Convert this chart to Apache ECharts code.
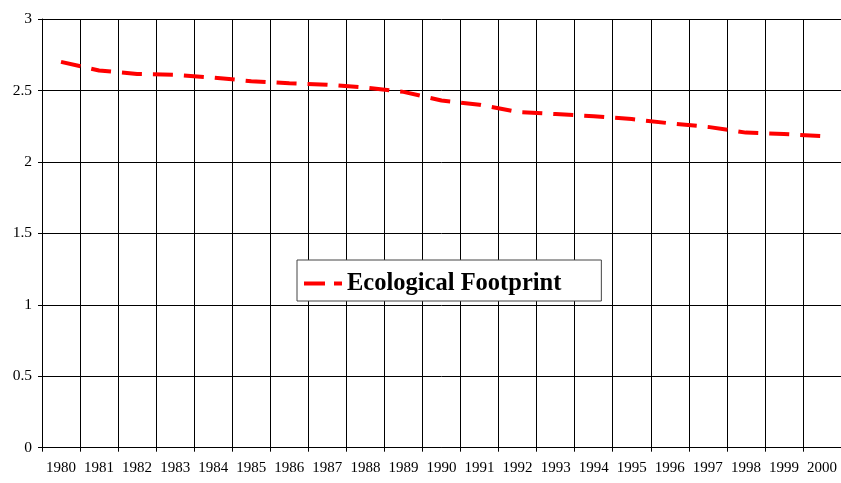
<!DOCTYPE html>
<html>
<head>
<meta charset="utf-8">
<script src="https://cdn.jsdelivr.net/npm/echarts@6/dist/echarts.min.js"></script>
<style>html,body{margin:0;padding:0;background:#fff}#c{width:841px;height:483px}</style>
</head>
<body>
<div id="c"></div>
<script>
const years = ['1980','1981','1982','1983','1984','1985','1986','1987','1988','1989','1990','1991','1992','1993','1994','1995','1996','1997','1998','1999','2000'];
const footprint = [2.70,2.64,2.615,2.61,2.59,2.565,2.55,2.54,2.52,2.49,2.43,2.40,2.35,2.335,2.32,2.30,2.27,2.245,2.205,2.195,2.18];
const seriesName = 'Ecological Footprint';

const chart = echarts.init(document.getElementById('c'), null, {renderer: 'canvas'});
const font = '"Liberation Serif", "Times New Roman", serif';
chart.setOption({
  animation: false,
  backgroundColor: '#fff',
  grid: {left: 42, top: 19, right: -1, bottom: 35.3, containLabel: false},
  legend: {
    show: true,
    left: 297, top: 260,
    orient: 'horizontal',
    padding: [11, 40, 5, 7],
    borderColor: '#444', borderWidth: 1,
    backgroundColor: '#fff',
    itemWidth: 38, itemHeight: 4, itemGap: 6,
    textStyle: {fontFamily: font, fontWeight: 'bold', fontSize: 24.5, color: '#000'},
    data: [{name: seriesName, icon: 'path://M0,0 L21,0 L21,4 L0,4 Z M30,0 L38,0 L38,4 L30,4 Z'}]
  },
  xAxis: {
    type: 'category',
    data: years,
    boundaryGap: true,
    axisLine: {show: true, lineStyle: {color: '#000', width: 1}},
    axisTick: {show: true, length: 4, lineStyle: {color: '#000'}},
    splitLine: {show: true, lineStyle: {color: '#000', width: 1}},
    axisLabel: {fontFamily: font, fontSize: 15, color: '#000', margin: 13, interval: 0}
  },
  yAxis: {
    type: 'value',
    min: 0, max: 3, interval: 0.5,
    axisLine: {show: true, lineStyle: {color: '#000', width: 1}},
    axisTick: {show: true, length: 4, lineStyle: {color: '#000'}},
    splitLine: {show: true, lineStyle: {color: '#000', width: 1}},
    axisLabel: {fontFamily: font, fontSize: 15.5, color: '#000', margin: 10}
  },
  series: [{
    name: seriesName,
    type: 'line',
    data: footprint,
    symbol: 'none',
    lineStyle: {color: '#ff0000', width: 4, type: [20, 11], cap: 'butt'},
    itemStyle: {color: '#ff0000'}
  }]
});
</script>
</body>
</html>
